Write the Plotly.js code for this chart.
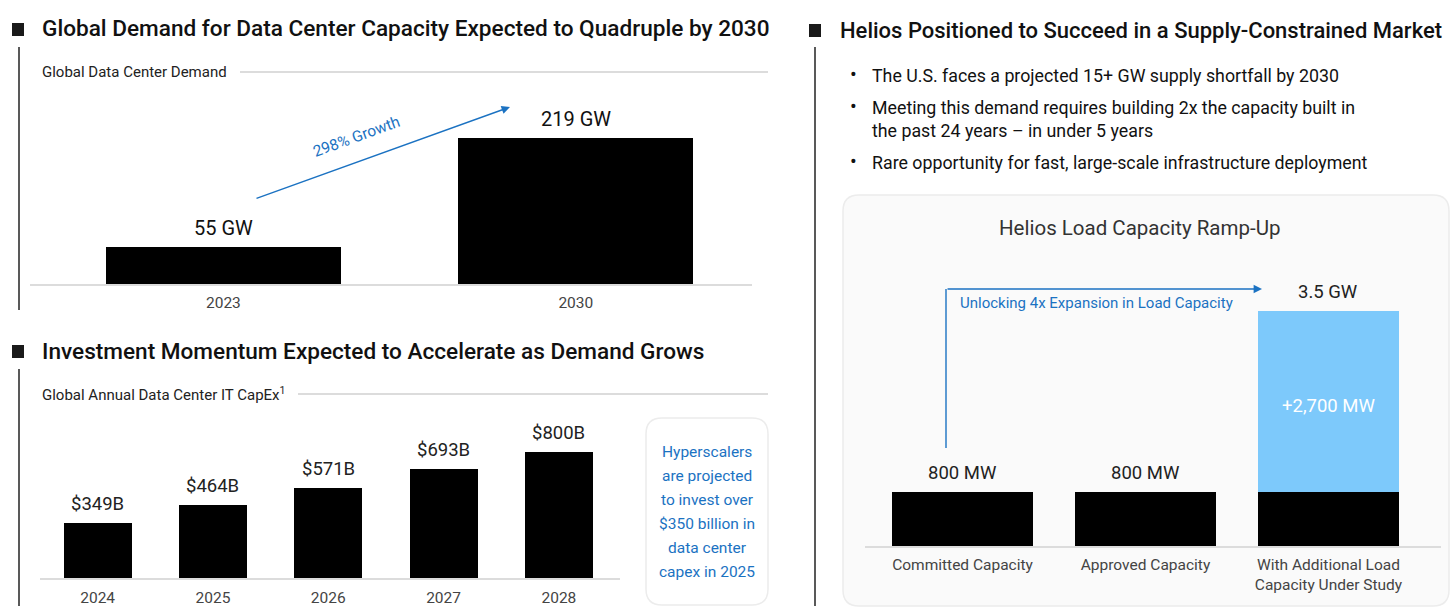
<!DOCTYPE html>
<html><head><meta charset="utf-8">
<script src="https://cdn.plot.ly/plotly-3.0.1.min.js"></script>
<style>html,body{margin:0;padding:0;background:#fff}#chart{width:1456px;height:611px}</style>
</head><body><div id="chart"></div>
<script>
// ---- data ----
const demandYears = ["2023", "2030"];
const demandGW = [55, 219];
const demandLabels = ["55 GW", "219 GW"];

const capexYears = ["2024", "2025", "2026", "2027", "2028"];
const capexB = [349, 464, 571, 693, 800];
const capexLabels = ["$349B", "$464B", "$571B", "$693B", "$800B"];

const loadCats = ["Committed Capacity", "Approved Capacity", "With Additional Load<br>Capacity Under Study"];
const loadBaseMW = [800, 800, 800];
const loadAddMW = [0, 0, 2700];
const loadLabels = ["800 MW", "800 MW", "3.5 GW"];
const loadAddLabel = "+2,700 MW";

const bullets = [
  "The U.S. faces a projected 15+ GW supply shortfall by 2030",
  "Meeting this demand requires building 2x the capacity built in<br>the past 24 years \u2013 in under 5 years",
  "Rare opportunity for fast, large-scale infrastructure deployment"
];
const calloutLines = ["Hyperscalers", "are projected", "to invest over", "$350 billion in", "data center", "capex in 2025"];

// ---- helpers ----
const W = 1456, H = 611;
const px = x => x / W;
const py = y => 1 - y / H;
const FONT = "Roboto, 'Noto Sans', sans-serif";
const BLUE = "#1b72c2";

function rrect(x0, y0, x1, y1, r) {
  const rx = r / W, ry = r / H;
  const a = px(x0), b = px(x1), t = py(y0), u = py(y1);
  return `M ${a + rx} ${t} L ${b - rx} ${t} Q ${b} ${t} ${b} ${t - ry} L ${b} ${u + ry} Q ${b} ${u} ${b - rx} ${u} L ${a + rx} ${u} Q ${a} ${u} ${a} ${u + ry} L ${a} ${t - ry} Q ${a} ${t} ${a + rx} ${t} Z`;
}
function line(x0, y0, x1, y1, color, width) {
  return {type: "line", xref: "paper", yref: "paper", x0: px(x0), y0: py(y0), x1: px(x1), y1: py(y1),
          line: {color: color, width: width}};
}
function rect(x0, y0, x1, y1, color) {
  return {type: "rect", xref: "paper", yref: "paper", x0: px(x0), y0: py(y0), x1: px(x1), y1: py(y1),
          fillcolor: color, line: {width: 0}};
}
function txt(x, y, text, size, color, xanchor, extra) {
  return Object.assign({xref: "paper", yref: "paper", x: px(x), y: py(y), text: text, showarrow: false,
    xanchor: xanchor || "left", yanchor: "middle", font: {family: FONT, size: size, color: color}}, extra || {});
}

// ---- traces ----
const traces = [
  {type: "bar", x: demandYears, y: demandGW, xaxis: "x", yaxis: "y", marker: {color: "#000"}, width: 0.667, hoverinfo: "skip"},
  {type: "bar", x: capexYears, y: capexB, xaxis: "x2", yaxis: "y2", marker: {color: "#000"}, width: 0.59, hoverinfo: "skip"},
  {type: "bar", x: loadCats, y: loadBaseMW, xaxis: "x3", yaxis: "y3", marker: {color: "#000"}, width: 0.77, hoverinfo: "skip"},
  {type: "bar", x: loadCats, y: loadAddMW, xaxis: "x3", yaxis: "y3", marker: {color: "#7dc9fb"}, width: 0.77, hoverinfo: "skip"}
];

function xax(domain, range, anchor, standoff) {
  return {domain: domain, range: range, anchor: anchor, type: "category", showgrid: false, zeroline: false, ticks: "",
    showline: true, linecolor: "#dcdcdc", linewidth: 2, fixedrange: true, ticklabelstandoff: standoff,
    tickfont: {family: FONT, size: 15.5, color: "#444"}};
}
function yax(domain, range, anchor) {
  return {domain: domain, range: range, anchor: anchor, showgrid: false, zeroline: false, showticklabels: false, showline: false, fixedrange: true};
}

// ---- annotations ----
const ann = [];
const t1 = txt(40, 29, "Global Demand for Data Center Capacity Expected to Quadruple by 2030", 22.6, "#111"); t1.font.weight = 500; ann.push(t1);
ann.push(txt(40, 72, "Global Data Center Demand", 15, "#222"));
const t2 = txt(40, 351, "Investment Momentum Expected to Accelerate as Demand Grows", 22.6, "#111"); t2.font.weight = 500; ann.push(t2);
ann.push(txt(40, 394, "Global Annual Data Center IT CapEx<sup>1</sup>", 15, "#222"));
const t3 = txt(838, 30, "Helios Positioned to Succeed in a Supply-Constrained Market", 22, "#111"); t3.font.weight = 500; ann.push(t3);

// category positions given by index on category axes
demandYears.forEach((c, i) => ann.push({xref: "x", yref: "y", x: i, y: demandGW[i], text: demandLabels[i], showarrow: false,
  yanchor: "bottom", yshift: 5, font: {family: FONT, size: 20, color: "#111"}}));
capexYears.forEach((c, i) => ann.push({xref: "x2", yref: "y2", x: i, y: capexB[i], text: capexLabels[i], showarrow: false,
  yanchor: "bottom", yshift: 6, font: {family: FONT, size: 18.5, color: "#222"}}));
loadCats.forEach((c, i) => ann.push({xref: "x3", yref: "y3", x: i, y: loadBaseMW[i] + loadAddMW[i], text: loadLabels[i], showarrow: false,
  yanchor: "bottom", yshift: 6, font: {family: FONT, size: 18.5, color: "#222"}}));
ann.push({xref: "x3", yref: "y3", x: 2, y: loadBaseMW[2] + loadAddMW[2] / 2, text: loadAddLabel, showarrow: false,
  yanchor: "middle", yshift: -4, font: {family: FONT, size: 18.5, color: "#fff"}});

// growth arrow
ann.push({xref: "paper", yref: "paper", x: px(510), y: py(107), ax: 255 - 510, ay: 199 - 107, text: "", showarrow: true,
  arrowhead: 2, arrowsize: 1.2, arrowwidth: 1.4, arrowcolor: BLUE, axref: "pixel", ayref: "pixel"});
ann.push(txt(356, 137, "298% Growth", 15.5, BLUE, "center", {textangle: -20}));

// callout lines
calloutLines.forEach((t, i) => ann.push(txt(707, 452 + i * 24, t, 15.5, BLUE, "center")));

// bullets
const bulletY = [74, 106, 161];
bullets.forEach((b, i) => {
  ann.push(txt(853, bulletY[i], "\u2022", 20, "#111", "center"));
  ann.push(txt(870, bulletY[i], b, 17.8, "#111", "left", {yanchor: "top", yshift: 11, align: "left"}));
});

// load ramp box title & arrow
ann.push(txt(1139, 228, "Helios Load Capacity Ramp-Up", 20.5, "#333", "center"));
ann.push(txt(958, 303, "Unlocking 4x Expansion in Load Capacity", 15, BLUE, "left"));
ann.push({xref: "paper", yref: "paper", x: px(1262), y: py(289), ax: 946 - 1262, ay: 0, text: "", showarrow: true,
  arrowhead: 2, arrowsize: 1.2, arrowwidth: 1.4, arrowcolor: BLUE, axref: "pixel", ayref: "pixel"});

// ---- shapes ----
const shapes = [
  {type: "path", xref: "paper", yref: "paper", path: rrect(843, 195, 1449, 606, 16), fillcolor: "#fafafa", line: {color: "#ececec", width: 1.5}, layer: "below"},
  {type: "path", xref: "paper", yref: "paper", path: rrect(646, 418, 768, 605, 16), fillcolor: "#ffffff", line: {color: "#ececec", width: 1.5}, layer: "below"},
  rect(12, 23, 24, 36, "#1a1a1a"),
  rect(12, 345, 24, 358, "#1a1a1a"),
  rect(809, 24, 821, 37, "#1a1a1a"),
  line(19, 47, 19, 310, "#222", 1.5),
  line(19, 369, 19, 606, "#222", 1.5),
  line(815, 47, 815, 606, "#222", 1.5),
  line(240, 72, 768, 72, "#d0d0d0", 1.5),
  line(298, 394, 768, 394, "#d0d0d0", 1.5),
  line(946, 448, 946, 289, BLUE, 1.4)
];

const layout = {
  width: W, height: H, margin: {l: 0, r: 0, t: 0, b: 0},
  paper_bgcolor: "#fff", plot_bgcolor: "rgba(0,0,0,0)",
  showlegend: false, barmode: "stack", font: {family: FONT},
  xaxis: xax([px(29.6), px(752)], [-0.55, 1.5], "y", 3),
  yaxis: yax([py(284), py(90)], [0, 291], "x"),
  xaxis2: xax([px(40), px(620)], [-0.5, 4.53], "y2", 4),
  yaxis2: yax([py(578), py(420)], [0, 1003], "x2"),
  xaxis3: xax([px(865), px(1441)], [-0.533, 2.615], "y3", 3),
  yaxis3: yax([py(546), py(280)], [0, 3970], "x3"),
  annotations: ann, shapes: shapes
};
Plotly.newPlot("chart", traces, layout, {displayModeBar: false, staticPlot: true});
</script></body></html>
